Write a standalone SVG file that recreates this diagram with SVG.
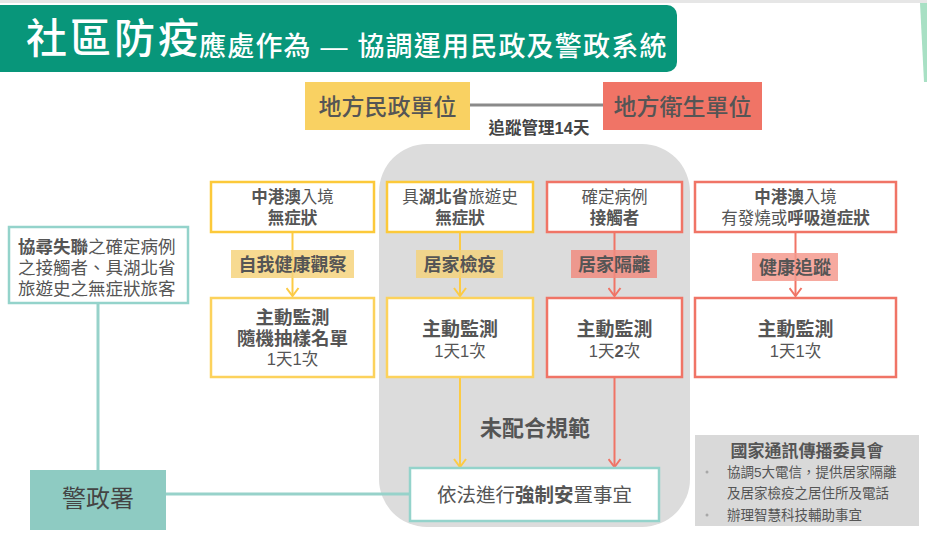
<svg xmlns="http://www.w3.org/2000/svg" width="927" height="538" viewBox="0 0 927 538">
<defs>
<style>
text{font-family:"Liberation Sans","Noto Sans CJK TC","Noto Sans CJK SC",sans-serif;fill:#555;dominant-baseline:central;text-anchor:middle}
.b{font-weight:bold}
.n{font-weight:normal}
.ybox{fill:#fff;stroke:#FCC93A;stroke-width:2.5}
.rbox{fill:#fff;stroke:#F07466;stroke-width:2.5}
.tbox{fill:#fff;stroke:#94D3CB;stroke-width:2.5}
.yl{stroke:#FCCB45;stroke-width:2;fill:none}
.rl{stroke:#F07466;stroke-width:2;fill:none}
.tl{stroke:#97D2CA;stroke-width:3;fill:none}
.t16{font-size:16.5px}
.t19{font-size:19px}
.t18{font-size:18px}
</style>
<marker id="ay" viewBox="-1 -7 11 14" refX="8" refY="0" markerWidth="11" markerHeight="14" markerUnits="userSpaceOnUse" orient="auto">
<path d="M0,-6 L8,0 L0,6" fill="none" stroke="#FCCB45" stroke-width="2"/>
</marker>
<marker id="ar" viewBox="-1 -7 11 14" refX="8" refY="0" markerWidth="11" markerHeight="14" markerUnits="userSpaceOnUse" orient="auto">
<path d="M0,-6 L8,0 L0,6" fill="none" stroke="#F07466" stroke-width="2"/>
</marker>
</defs>
<rect width="927" height="538" fill="#fff"/>
<rect width="927" height="3" fill="#E6E6E6"/>
<polygon points="920,3 927,3 927,82 924,82" fill="#A8E0C4"/>

<g id="title">
<path d="M0,5 H667 a10,10 0 0 1 10,10 V62 a10,10 0 0 1 -10,10 H0 Z" fill="#08967A"/>
<text x="26" y="39" style="font-size:41px;fill:#fff;text-anchor:start;letter-spacing:3px;font-weight:500">社區防疫</text>
<text x="199" y="47" style="font-size:27px;fill:#fff;text-anchor:start;letter-spacing:1.2px;font-weight:500">應處作為 — 協調運用民政及警政系統</text>
</g>

<g id="panel">
<rect x="379" y="144" width="311" height="383" rx="48" fill="#DCDCDC"/>
</g>

<g id="connectors">
<line x1="470" y1="105" x2="603" y2="105" stroke="#8A8A8A" stroke-width="3"/>
<line class="yl" x1="292.5" y1="233" x2="292.5" y2="296" marker-end="url(#ay)"/>
<line class="yl" x1="460" y1="233" x2="460" y2="296" marker-end="url(#ay)"/>
<line class="rl" x1="614.5" y1="233" x2="614.5" y2="296" marker-end="url(#ar)"/>
<line class="rl" x1="795.5" y1="233" x2="795.5" y2="296" marker-end="url(#ar)"/>
<line class="yl" x1="460" y1="378" x2="460" y2="467" marker-end="url(#ay)"/>
<line class="rl" x1="614.5" y1="378" x2="614.5" y2="467" marker-end="url(#ar)"/>
<line class="tl" x1="98" y1="303" x2="98" y2="470"/>
<line class="tl" x1="166" y1="494" x2="410" y2="494"/>
</g>

<g id="civil">
<rect x="305" y="82" width="165" height="48" fill="#F9D162"/>
<text x="387.5" y="107" style="font-size:23px;font-weight:500">地方民政單位</text>
</g>
<g id="health">
<rect x="603" y="82" width="159" height="48" fill="#F07466"/>
<text x="682.5" y="107" style="font-size:23px;font-weight:500">地方衛生單位</text>
</g>
<text id="track-label" x="539" y="128" class="b" style="font-size:16.5px;fill:#444">追蹤管理14天</text>

<g id="nodeA1">
<rect class="ybox" x="211" y="182" width="163" height="50"/>
<text class="t16" x="292.5" y="197"><tspan class="b">中港澳</tspan>入境<tspan class="b" x="292.5" dy="21">無症狀</tspan></text>
</g>
<g id="nodeB1">
<rect class="ybox" x="387" y="182" width="146" height="50"/>
<text class="t16" x="460" y="197">具<tspan class="b">湖北省</tspan>旅遊史<tspan class="b" x="460" dy="21">無症狀</tspan></text>
</g>
<g id="nodeC1">
<rect class="rbox" x="547" y="182" width="135" height="50"/>
<text class="t16" x="614.5" y="197">確定病例<tspan class="b" x="614.5" dy="21">接觸者</tspan></text>
</g>
<g id="nodeD1">
<rect class="rbox" x="695" y="182" width="201" height="50"/>
<text class="t16" x="795.5" y="197"><tspan class="b">中港澳</tspan>入境<tspan x="795.5" dy="21">有發燒或</tspan><tspan class="b">呼吸道症狀</tspan></text>
</g>

<g id="labelA">
<rect x="231" y="250" width="123" height="28" fill="#F6D37E" fill-opacity="0.85"/>
<text class="t18 b" x="292.5" y="265">自我健康觀察</text>
</g>
<g id="labelB">
<rect x="416" y="250" width="87" height="28" fill="#F3D27E" fill-opacity="0.85"/>
<text class="t18 b" x="459.5" y="265">居家檢疫</text>
</g>
<g id="labelC">
<rect x="571" y="250" width="86" height="28" fill="#F08C80" fill-opacity="0.85"/>
<text class="t18 b" x="614" y="265">居家隔離</text>
</g>
<g id="labelD">
<rect x="752" y="253" width="86" height="28" fill="#F49A8E" fill-opacity="0.85"/>
<text class="t18 b" x="795" y="268">健康追蹤</text>
</g>

<g id="nodeA2">
<rect class="ybox" x="211" y="298" width="163" height="79" style="stroke:#FCD25C"/>
<text class="b" style="font-size:18.5px" x="292.5" y="317">主動監測<tspan x="292.5" dy="21">隨機抽樣名單</tspan><tspan class="n t16" x="292.5" dy="21">1天1次</tspan></text>
</g>
<g id="nodeB2">
<rect class="ybox" x="387" y="298" width="146" height="79" style="stroke:#FCD25C"/>
<text class="t19 b" x="460" y="329">主動監測<tspan class="n t16" x="460" dy="22">1天1次</tspan></text>
</g>
<g id="nodeC2">
<rect class="rbox" x="547" y="298" width="135" height="79"/>
<text class="t19 b" x="614.5" y="329">主動監測<tspan class="n t16" x="614.5" dy="22">1天</tspan><tspan class="t16">2</tspan><tspan class="n t16">次</tspan></text>
</g>
<g id="nodeD2">
<rect class="rbox" x="695" y="298" width="201" height="79"/>
<text class="t19 b" x="795.5" y="329">主動監測<tspan class="n t16" x="795.5" dy="22">1天1次</tspan></text>
</g>

<text id="noncompliance" x="535" y="428" class="b" style="font-size:22px">未配合規範</text>

<g id="enforce">
<rect class="tbox" x="410" y="468" width="249" height="53"/>
<text x="534.5" y="495" style="font-size:19.5px">依法進行<tspan class="b">強制安</tspan>置事宜</text>
</g>

<g id="search">
<rect class="tbox" x="9" y="227" width="179" height="76"/>
<text x="18" y="247" style="font-size:17.5px;text-anchor:start"><tspan class="b">協尋失聯</tspan>之確定病例<tspan x="18" dy="21">之接觸者、具湖北省</tspan><tspan x="18" dy="21">旅遊史之無症狀旅客</tspan></text>
</g>

<g id="police">
<rect x="30" y="470" width="136" height="60" fill="#8ECBC2"/>
<text x="98" y="498" style="font-size:24px;fill:#444">警政署</text>
</g>

<g id="ncc">
<rect x="695" y="435" width="224" height="91" fill="#D9D9D9"/>
<text x="807" y="451" class="b" style="font-size:17px">國家通訊傳播委員會</text>
<circle cx="707" cy="472" r="1.5" fill="#A8A8A8"/>
<circle cx="707" cy="515" r="1.5" fill="#A8A8A8"/>
<text x="727" y="472" style="font-size:13.5px;text-anchor:start">協調5大電信，提供居家隔離<tspan x="727" dy="21">及居家檢疫之居住所及電話</tspan><tspan x="727" dy="22">辦理智慧科技輔助事宜</tspan></text>
</g>
</svg>
